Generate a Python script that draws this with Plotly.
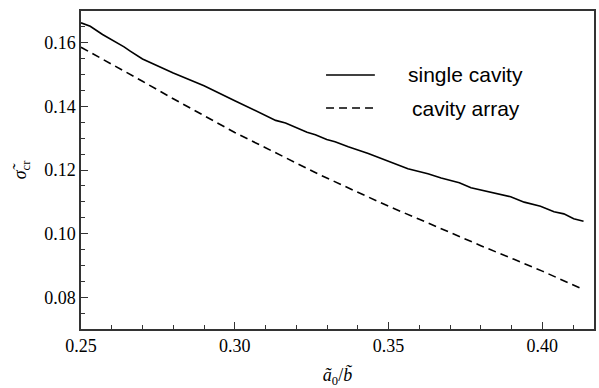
import plotly.graph_objects as go

# single cavity
single_x = [0.250, 0.253, 0.257, 0.260, 0.264, 0.266, 0.270, 0.280, 0.290, 0.300,
            0.310, 0.3133, 0.3165, 0.3235, 0.3262, 0.3299, 0.3326, 0.3369, 0.3434,
            0.3499, 0.3563, 0.3628, 0.3671, 0.3730, 0.3768, 0.3897, 0.3941, 0.3994,
            0.4038, 0.4070, 0.4102, 0.4134]
single_y = [0.1663, 0.1652, 0.1626, 0.1610, 0.1587, 0.1574, 0.1549, 0.1505, 0.1465, 0.1418,
            0.1371, 0.1356, 0.1348, 0.1319, 0.1311, 0.1296, 0.1289, 0.1273, 0.1252,
            0.1228, 0.1204, 0.1188, 0.1175, 0.1160, 0.1144, 0.1116, 0.1099, 0.1086,
            0.1069, 0.1062, 0.1047, 0.1039]

# cavity array
array_x = [0.250, 0.260, 0.270, 0.280, 0.290, 0.300, 0.310, 0.3272, 0.340, 0.350,
           0.360, 0.3720, 0.380, 0.3908, 0.400, 0.4134]
array_y = [0.1586, 0.1533, 0.1479, 0.1424, 0.1370, 0.1318, 0.1270, 0.1187, 0.1130, 0.1086,
           0.1045, 0.0994, 0.0962, 0.0919, 0.0882, 0.0824]

x_ticks = [0.25, 0.30, 0.35, 0.40]
x_ticklabels = ["0.25", "0.30", "0.35", "0.40"]
y_ticks = [0.08, 0.10, 0.12, 0.14, 0.16]
y_ticklabels = ["0.08", "0.10", "0.12", "0.14", "0.16"]
legend_labels = ["single cavity", "cavity array"]

serif = "Liberation Serif, Times New Roman, DejaVu Serif, serif"
sans = "Liberation Sans, Arial, Helvetica, sans-serif"

fig = go.Figure()
fig.add_trace(go.Scatter(x=single_x, y=single_y, mode="lines",
                         line=dict(color="black", width=1.6), name=legend_labels[0],
                         showlegend=False))
fig.add_trace(go.Scatter(x=array_x, y=array_y, mode="lines",
                         line=dict(color="black", width=1.6, dash="8px,5px"),
                         name=legend_labels[1], showlegend=False))

# legend drawn as shapes + annotations (paper coordinates)
def px_x(px):
    return (px - 81) / 515.0

def px_y(py):
    return (329 - py) / 318.0

fig.add_shape(type="line", xref="paper", yref="paper",
              x0=px_x(327), x1=px_x(376), y0=px_y(75), y1=px_y(75),
              line=dict(color="black", width=1.6))
fig.add_shape(type="line", xref="paper", yref="paper",
              x0=px_x(327), x1=px_x(376), y0=px_y(108), y1=px_y(108),
              line=dict(color="black", width=1.6, dash="8px,5px"))
fig.add_annotation(xref="paper", yref="paper", x=px_x(467), y=px_y(75),
                   text=legend_labels[0], showarrow=False, xanchor="center",
                   yanchor="middle", font=dict(family=sans, size=21, color="black"))
fig.add_annotation(xref="paper", yref="paper", x=px_x(467), y=px_y(108),
                   text=legend_labels[1], showarrow=False, xanchor="center",
                   yanchor="middle", font=dict(family=sans, size=21, color="black"))

axis_common = dict(
    showline=True, linecolor="#333333", linewidth=1.5, mirror=True,
    ticks="inside", ticklen=7, tickwidth=1.2, tickcolor="#333333",
    showgrid=False, zeroline=False,
    tickfont=dict(family=serif, size=18, color="black"),
)

fig.update_xaxes(range=[0.25, 0.4168], tickmode="array", tickvals=x_ticks,
                 ticktext=x_ticklabels,
                 minor=dict(dtick=0.01, ticks="inside", ticklen=4, tickwidth=1.0,
                            tickcolor="#333333", showgrid=False),
                 title=dict(text="<i>ã</i><sub>0</sub>/<i>b̃</i>",
                            font=dict(family=serif, size=18, color="black"), standoff=14),
                 **axis_common)
fig.update_yaxes(range=[0.07, 0.17], tickmode="array", tickvals=y_ticks,
                 ticktext=y_ticklabels,
                 minor=dict(dtick=0.005, ticks="inside", ticklen=4, tickwidth=1.0,
                            tickcolor="#333333", showgrid=False),
                 title=dict(text="<i>σ̃</i><sub>cr</sub>",
                            font=dict(family=serif, size=18, color="black"), standoff=13),
                 **axis_common)

fig.update_layout(
    width=599, height=388,
    margin=dict(l=81, r=3, t=11, b=59),
    plot_bgcolor="white", paper_bgcolor="white",
)

fig.write_html("out.html",
               config={"displayModeBar": False},
               post_script="document.body.style.margin='0';document.body.style.padding='0';")
